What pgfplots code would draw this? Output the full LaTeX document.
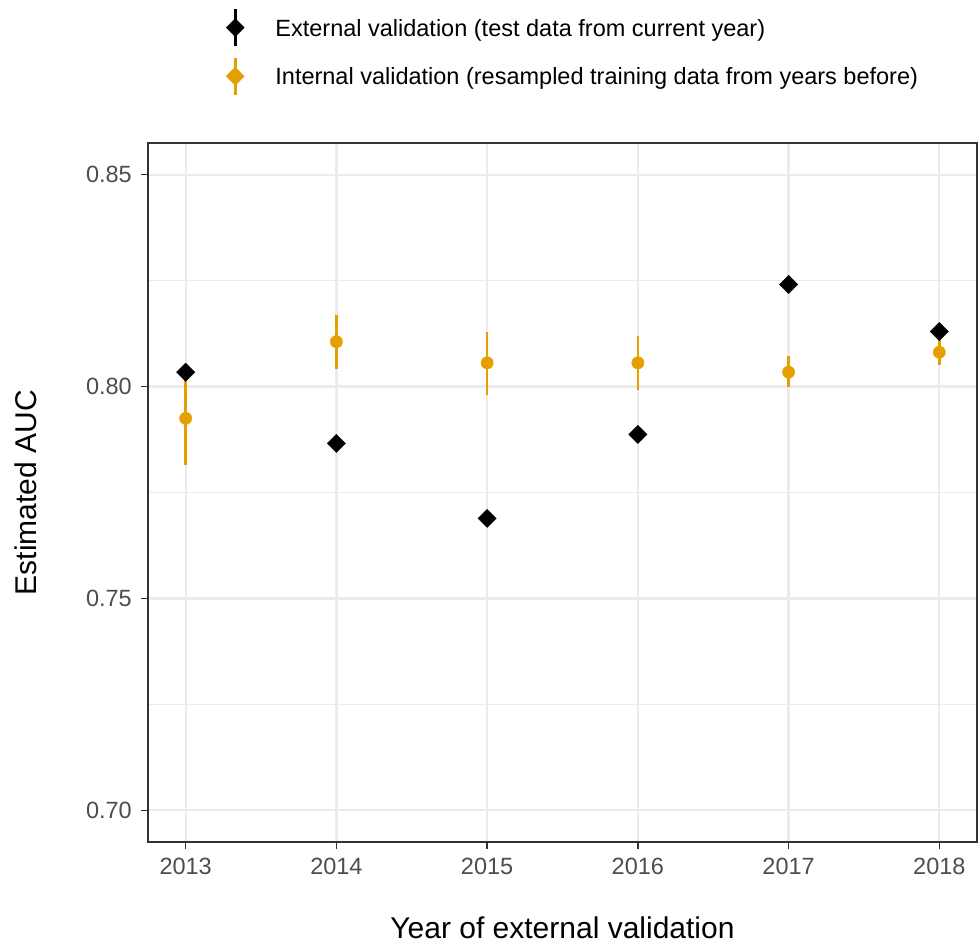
\documentclass[border=0pt]{standalone}
\usepackage{fontspec}
\setmainfont{Liberation Sans}
\usepackage{pgfplots}
\usepackage{pgfplotstable}
\pgfplotsset{compat=1.18}
\definecolor{okorange}{HTML}{E69F00}
\definecolor{gridgray}{HTML}{EBEBEB}
\definecolor{gray20}{HTML}{333333}
\definecolor{gray30}{HTML}{4D4D4D}

\pgfplotstableread{
x y ep em
2013 0.7925 0.0111 0.0111
2014 0.8106 0.0064 0.0065
2015 0.8056 0.0074 0.0076
2016 0.8056 0.0063 0.0063
2017 0.8034 0.0038 0.0036
2018 0.8081 0.0029 0.0029
}\internal

\pgfplotstableread{
x y
2013 0.8034
2014 0.7866
2015 0.7689
2016 0.7887
2017 0.8241
2018 0.8130
}\external

\begin{document}
\begin{tikzpicture}
\useasboundingbox (-148bp,-105bp) rectangle (831bp,842bp);
\begin{axis}[
  scale only axis,
  width=829bp, height=699bp,
  xmin=2012.75, xmax=2018.25,
  ymin=0.6925, ymax=0.8575,
  xtick={2013,2014,2015,2016,2017,2018},
  ytick={0.70,0.75,0.80,0.85},
  minor ytick={0.725,0.775,0.825},
  grid=both,
  major grid style={color=gridgray, line width=2.2bp},
  minor grid style={color=gridgray, line width=1.1bp},
  axis line style={gray20, line width=1.3bp},
  tick pos=left,
  tick align=outside,
  major tick length=7bp,
  minor tick length=0pt,
  major tick style={gray20, line width=1.3bp},
  /pgf/number format/assume math mode=true,
  xticklabel style={/pgf/number format/1000 sep=, font=\fontsize{23.5bp}{28bp}\selectfont, text=gray30, inner sep=0pt, yshift=-9bp},
  yticklabel style={/pgf/number format/fixed, /pgf/number format/fixed zerofill, /pgf/number format/precision=2, font=\fontsize{23.5bp}{28bp}\selectfont, text=gray30, inner sep=0pt, xshift=-9bp},
  xlabel={Year of external validation},
  ylabel={Estimated AUC},
  xlabel style={font=\fontsize{30bp}{36bp}\selectfont, at={(axis description cs:0.5,-0.1385)}, anchor=base},
  ylabel style={font=\fontsize{30bp}{36bp}\selectfont, at={(axis description cs:-0.1339,0.5)}, anchor=base, rotate=0},
  reverse legend,
  legend cell align=left,
  legend style={draw=none, fill=none, inner sep=0pt, outer sep=0pt,
    at={(axis description cs:0.0941,1.1935)}, anchor=north west,
    font=\fontsize{23.5bp}{28bp}\selectfont,
    nodes={inner sep=0pt, text depth=0pt},
    column sep=31bp, row sep=9bp},
]
\addplot[only marks, mark=*, mark size=6.2bp, color=okorange,
  mark options={draw=okorange, fill=okorange, line width=0.3bp},
  error bars/.cd, y dir=both, y explicit, error mark=none,
  error bar style={line width=2.7bp, color=okorange}]
  table[x=x, y=y, y error plus=ep, y error minus=em] {\internal};
\addlegendimage{legend image code/.code={
  \draw[okorange, line width=2.7bp] (0bp,-18.5bp) -- (0bp,18.5bp);
  \fill[okorange] (-9bp,0bp) -- (0bp,9bp) -- (9bp,0bp) -- (0bp,-9bp) -- cycle;}}
\addplot[only marks, mark=square*, mark size=6.5bp, color=black,
  mark options={rotate=45, draw=black, fill=black, line width=0.3bp}, forget plot]
  table[x=x, y=y] {\external};
\addlegendimage{legend image code/.code={
  \draw[black, line width=2.7bp] (0bp,-18.5bp) -- (0bp,18.5bp);
  \fill[black] (-9bp,0bp) -- (0bp,9bp) -- (9bp,0bp) -- (0bp,-9bp) -- cycle;}}
\legend{Internal validation (resampled training data from years before),External validation (test data from current year)}
\end{axis}
\end{tikzpicture}
\end{document}
